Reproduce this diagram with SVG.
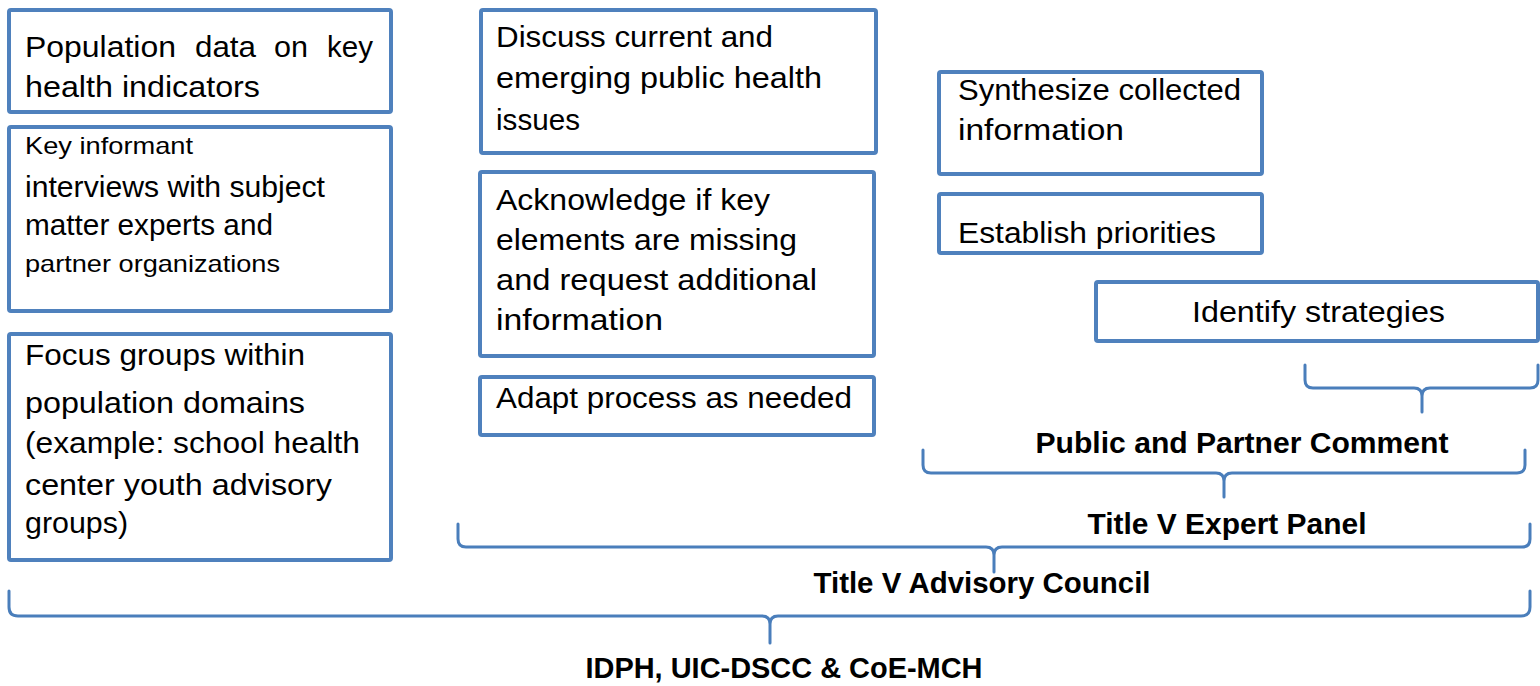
<svg xmlns="http://www.w3.org/2000/svg" width="1540" height="686" viewBox="0 0 1540 686">
<style>
.box{fill:#fff;stroke:#4F81BD;stroke-width:4;stroke-linejoin:round}
.brace{fill:none;stroke:#4A7EBB;stroke-width:3;stroke-linecap:round;stroke-linejoin:round}
.t{font-family:"Liberation Sans",Arial,sans-serif;font-size:29px;fill:#000}
.s{font-family:"Liberation Sans",Arial,sans-serif;font-size:24px;fill:#000}
.b{font-family:"Liberation Sans",Arial,sans-serif;font-size:29px;font-weight:bold;fill:#000;text-anchor:middle}
</style>
<rect width="1540" height="686" fill="#fff"/>
<g id="connectors">
<path class="brace" d="M1305,365 L1305,380 Q1305,388 1313,388 L1414,388 Q1422,388 1422,396 L1422,412 M1422,396 Q1422,388 1430,388 L1530,388 Q1538,388 1538,380 L1538,365"/>
<path class="brace" d="M923,450 L923,465 Q923,473 931,473 L1216,473 Q1224,473 1224,481 L1224,497 M1224,481 Q1224,473 1232,473 L1517,473 Q1525,473 1525,465 L1525,450"/>
<path class="brace" d="M458,524 L458,539 Q458,547 466,547 L986,547 Q994,547 994,555 L994,572 M994,555 Q994,547 1002,547 L1522,547 Q1530,547 1530,539 L1530,524"/>
<path class="brace" d="M9,591 L9,607 Q9,616 18,616 L762,616 Q770,616 770,624 L770,643 M770,624 Q770,616 778,616 L1521,616 Q1530,616 1530,607 L1530,591"/>
</g>
<g id="n-population">
<rect class="box" x="9" y="10" width="382" height="102" rx="2"/>
<text class="t" x="25" y="57" textLength="151" lengthAdjust="spacingAndGlyphs">Population</text>
<text class="t" x="195" y="57" textLength="61" lengthAdjust="spacingAndGlyphs">data</text>
<text class="t" x="274" y="57" textLength="34" lengthAdjust="spacingAndGlyphs">on</text>
<text class="t" x="327" y="57" textLength="46" lengthAdjust="spacingAndGlyphs">key</text>
<text class="t" x="25" y="97" textLength="235" lengthAdjust="spacingAndGlyphs">health indicators</text>
</g>
<g id="n-keyinformant">
<rect class="box" x="9" y="127" width="382" height="184" rx="2"/>
<text class="s" x="25" y="154" textLength="168" lengthAdjust="spacingAndGlyphs">Key informant</text>
<text class="t" x="25" y="197" textLength="300" lengthAdjust="spacingAndGlyphs">interviews with subject</text>
<text class="t" x="25" y="235" textLength="248" lengthAdjust="spacingAndGlyphs">matter experts and</text>
<text class="s" x="25" y="272" textLength="255" lengthAdjust="spacingAndGlyphs">partner organizations</text>
</g>
<g id="n-focus">
<rect class="box" x="9" y="334" width="382" height="226" rx="2"/>
<text class="t" x="25" y="365" textLength="280" lengthAdjust="spacingAndGlyphs">Focus groups within</text>
<text class="t" x="25" y="413" textLength="280" lengthAdjust="spacingAndGlyphs">population domains</text>
<text class="t" x="25" y="453" textLength="335" lengthAdjust="spacingAndGlyphs">(example: school health</text>
<text class="t" x="25" y="495" textLength="307" lengthAdjust="spacingAndGlyphs">center youth advisory</text>
<text class="t" x="25" y="533" textLength="103" lengthAdjust="spacingAndGlyphs">groups)</text>
</g>
<g id="n-discuss">
<rect class="box" x="481" y="10" width="395" height="143" rx="2"/>
<text class="t" x="496" y="47" textLength="277" lengthAdjust="spacingAndGlyphs">Discuss current and</text>
<text class="t" x="496" y="88" textLength="326" lengthAdjust="spacingAndGlyphs">emerging public health</text>
<text class="t" x="496" y="130" textLength="84" lengthAdjust="spacingAndGlyphs">issues</text>
</g>
<g id="n-acknowledge">
<rect class="box" x="480" y="172" width="394" height="184" rx="2"/>
<text class="t" x="496" y="210" textLength="274" lengthAdjust="spacingAndGlyphs">Acknowledge if key</text>
<text class="t" x="496" y="250" textLength="301" lengthAdjust="spacingAndGlyphs">elements are missing</text>
<text class="t" x="496" y="290" textLength="321" lengthAdjust="spacingAndGlyphs">and request additional</text>
<text class="t" x="496" y="330" textLength="167" lengthAdjust="spacingAndGlyphs">information</text>
</g>
<g id="n-adapt">
<rect class="box" x="480" y="377" width="394" height="58" rx="2"/>
<text class="t" x="496" y="408" textLength="356" lengthAdjust="spacingAndGlyphs">Adapt process as needed</text>
</g>
<g id="n-synthesize">
<rect class="box" x="939" y="72" width="323" height="102" rx="2"/>
<text class="t" x="958" y="100" textLength="283" lengthAdjust="spacingAndGlyphs">Synthesize collected</text>
<text class="t" x="958" y="140" textLength="166" lengthAdjust="spacingAndGlyphs">information</text>
</g>
<g id="n-establish">
<rect class="box" x="939" y="194" width="323" height="59" rx="2"/>
<text class="t" x="958" y="243" textLength="258" lengthAdjust="spacingAndGlyphs">Establish priorities</text>
</g>
<g id="n-identify">
<rect class="box" x="1096" y="282" width="442" height="59" rx="2"/>
<text class="t" x="1192" y="322" textLength="253" lengthAdjust="spacingAndGlyphs">Identify strategies</text>
</g>
<g id="labels">
<text class="b" x="1242" y="453" textLength="413" lengthAdjust="spacingAndGlyphs">Public and Partner Comment</text>
<text class="b" x="1227" y="534" textLength="279" lengthAdjust="spacingAndGlyphs">Title V Expert Panel</text>
<text class="b" x="982" y="593" textLength="337" lengthAdjust="spacingAndGlyphs">Title V Advisory Council</text>
<text class="b" x="784" y="678" textLength="397" lengthAdjust="spacingAndGlyphs">IDPH, UIC-DSCC &amp; CoE-MCH</text>
</g>
</svg>
